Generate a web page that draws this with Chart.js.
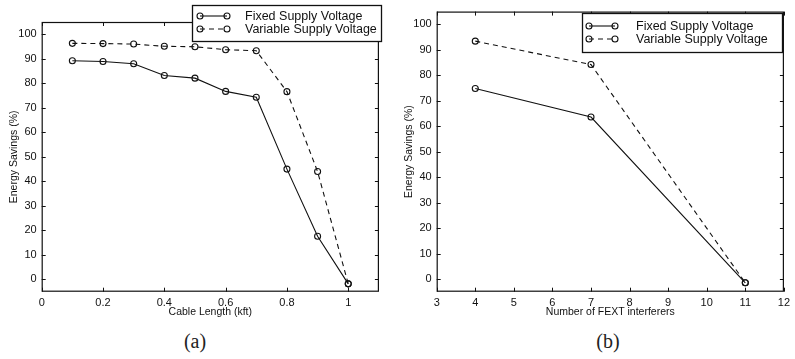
<!DOCTYPE html>
<html lang="en">
<head>
    <meta charset="UTF-8">
    <title>Energy Savings</title>
    <script src="https://cdn.jsdelivr.net/npm/chart.js"></script>
    <style>
        body { margin: 0; background: #fff; width: 795px; height: 359px; position: relative; overflow: hidden; }
        canvas { position: absolute; top: 0; }
        #chartA { left: 0; }
        #chartB { left: 395px; }
        .caption {
            position: absolute; top: 330px; width: 40px; text-align: center;
            font-family: "Liberation Serif", serif; font-size: 20px; color: #222;
        }
    </style>
</head>
<body>
    <canvas id="chartA" width="395" height="325"></canvas>
    <canvas id="chartB" width="400" height="325"></canvas>
    <div class="caption" style="left: 175px;">(a)</div>
    <div class="caption" style="left: 588px;">(b)</div>

    <script>
        // panel (a): cable length
        const cableLength = [0.1, 0.2, 0.3, 0.4, 0.5, 0.6, 0.7, 0.8, 0.9, 1.0];
        const fixedA = [89.2, 88.9, 88.0, 83.2, 82.1, 76.7, 74.3, 45.0, 17.6, -1.8];
        const variableA = [96.3, 96.2, 96.0, 95.1, 94.9, 93.7, 93.3, 76.6, 44.0, -1.8];
        const xTicksA = [0, 0.2, 0.4, 0.6, 0.8, 1];

        // panel (b): FEXT interferers
        const fextCount = [4, 7, 11];
        const fixedB = [74.8, 63.6, -1.5];
        const variableB = [93.4, 84.2, -1.5];
        const xTicksB = [3, 4, 5, 6, 7, 8, 9, 10, 11, 12];

        const yTicks = [0, 10, 20, 30, 40, 50, 60, 70, 80, 90, 100];
        const seriesLabels = ['Fixed Supply Voltage', 'Variable Supply Voltage'];

        const ink = '#111';
        const sansFont = '"Liberation Sans", Arial, sans-serif';

        // frame + inward ticks on all four sides, like matlab
        const boxPlugin = {
            id: 'matlabBox',
            afterDatasetsDraw(chart) {
                const ctx = chart.ctx;
                const a = chart.chartArea;
                const xs = chart.scales.x, ys = chart.scales.y;
                const len = 4;
                ctx.save();
                ctx.strokeStyle = ink;
                ctx.lineWidth = 1.2;
                ctx.strokeRect(a.left + 0.5, a.top + 0.5, a.right - a.left - 1, a.bottom - a.top - 1);
                ctx.lineWidth = 1;
                ctx.beginPath();
                xs.ticks.forEach(t => {
                    const px = Math.round(xs.getPixelForValue(t.value)) + 0.5;
                    ctx.moveTo(px, a.bottom); ctx.lineTo(px, a.bottom - len);
                    ctx.moveTo(px, a.top); ctx.lineTo(px, a.top + len);
                });
                ys.ticks.forEach(t => {
                    const py = Math.round(ys.getPixelForValue(t.value)) + 0.5;
                    ctx.moveTo(a.left, py); ctx.lineTo(a.left + len, py);
                    ctx.moveTo(a.right, py); ctx.lineTo(a.right - len, py);
                });
                ctx.stroke();
                ctx.restore();
            }
        };

        // boxed legend drawn over the plot
        const legendPlugin = {
            id: 'boxLegend',
            afterDraw(chart, args, opts) {
                const ctx = chart.ctx;
                ctx.save();
                ctx.fillStyle = '#fff';
                ctx.fillRect(opts.x, opts.y, opts.w, opts.h);
                ctx.strokeStyle = ink;
                ctx.lineWidth = 1.3;
                ctx.strokeRect(opts.x + 0.5, opts.y + 0.5, opts.w, opts.h);
                ctx.font = '12.5px ' + sansFont;
                ctx.textBaseline = 'middle';
                chart.data.datasets.forEach((ds, i) => {
                    const y = opts.rows[i];
                    ctx.strokeStyle = ink;
                    ctx.lineWidth = 1.1;
                    ctx.setLineDash(ds.borderDash || []);
                    ctx.beginPath();
                    ctx.moveTo(opts.lineX[0], y);
                    ctx.lineTo(opts.lineX[1], y);
                    ctx.stroke();
                    ctx.setLineDash([]);
                    opts.lineX.forEach(px => {
                        ctx.beginPath();
                        ctx.arc(px, y, 3, 0, Math.PI * 2);
                        ctx.stroke();
                    });
                    ctx.fillStyle = ink;
                    ctx.fillText(ds.label, opts.textX, y + 0.5);
                });
                ctx.restore();
            }
        };

        function makeChart(canvasId, xs, fixed, variable, xMin, xMax, xTicks, xTitle, padding, legendBox) {
            const ctx = document.getElementById(canvasId).getContext('2d');
            const common = {
                borderColor: ink,
                borderWidth: 1.1,
                pointRadius: 3,
                pointBorderWidth: 1.1,
                pointBorderColor: ink,
                pointBackgroundColor: 'rgba(0,0,0,0)',
                fill: false,
                tension: 0
            };
            return new Chart(ctx, {
                type: 'line',
                data: {
                    datasets: [
                        Object.assign({
                            label: seriesLabels[0],
                            data: xs.map((x, i) => ({ x: x, y: fixed[i] }))
                        }, common),
                        Object.assign({
                            label: seriesLabels[1],
                            data: xs.map((x, i) => ({ x: x, y: variable[i] })),
                            borderDash: [5, 4]
                        }, common)
                    ]
                },
                options: {
                    responsive: false,
                    animation: false,
                    layout: { padding: padding },
                    scales: {
                        x: {
                            type: 'linear',
                            min: xMin,
                            max: xMax,
                            grid: { display: false, drawTicks: false },
                            border: { display: false },
                            afterBuildTicks: s => { s.ticks = xTicks.map(v => ({ value: v })); },
                            afterFit: s => { s.height = 33.3; },
                            ticks: {
                                color: ink,
                                padding: 5,
                                maxRotation: 0,
                                autoSkip: false,
                                font: { family: sansFont, size: 11 },
                                callback: v => String(v)
                            },
                            title: {
                                display: true,
                                text: xTitle,
                                color: ink,
                                font: { family: sansFont, size: 10.5 },
                                padding: { top: 0, bottom: 7 }
                            }
                        },
                        y: {
                            min: -5,
                            max: 105,
                            grid: { display: false, drawTicks: false },
                            border: { display: false },
                            afterBuildTicks: s => { s.ticks = yTicks.map(v => ({ value: v })); },
                            afterFit: s => { s.width = 41.7; },
                            ticks: {
                                color: ink,
                                padding: 5,
                                font: { family: sansFont, size: 11 }
                            },
                            title: {
                                display: true,
                                text: 'Energy Savings (%)',
                                color: ink,
                                font: { family: sansFont, size: 10.5 },
                                padding: { top: 7.7, bottom: 0 }
                            }
                        }
                    },
                    plugins: {
                        legend: { display: false },
                        tooltip: { enabled: false },
                        boxLegend: legendBox
                    }
                },
                plugins: [boxPlugin, legendPlugin]
            });
        }

        makeChart('chartA', cableLength, fixedA, variableA, 0, 1.1, xTicksA, 'Cable Length (kft)',
            { left: 0, right: 16.1, top: 22, bottom: 0 },
            { x: 192, y: 5, w: 189, h: 36, rows: [16, 29], lineX: [200, 227], textX: 245 });

        makeChart('chartB', fextCount, fixedB, variableB, 3, 12, xTicksB, 'Number of FEXT interferers',
            { left: 0, right: 5, top: 6.7, bottom: 0 },
            { x: 187, y: 13, w: 200, h: 39, rows: [26, 39], lineX: [194, 220], textX: 241 });
    </script>
</body>
</html>
